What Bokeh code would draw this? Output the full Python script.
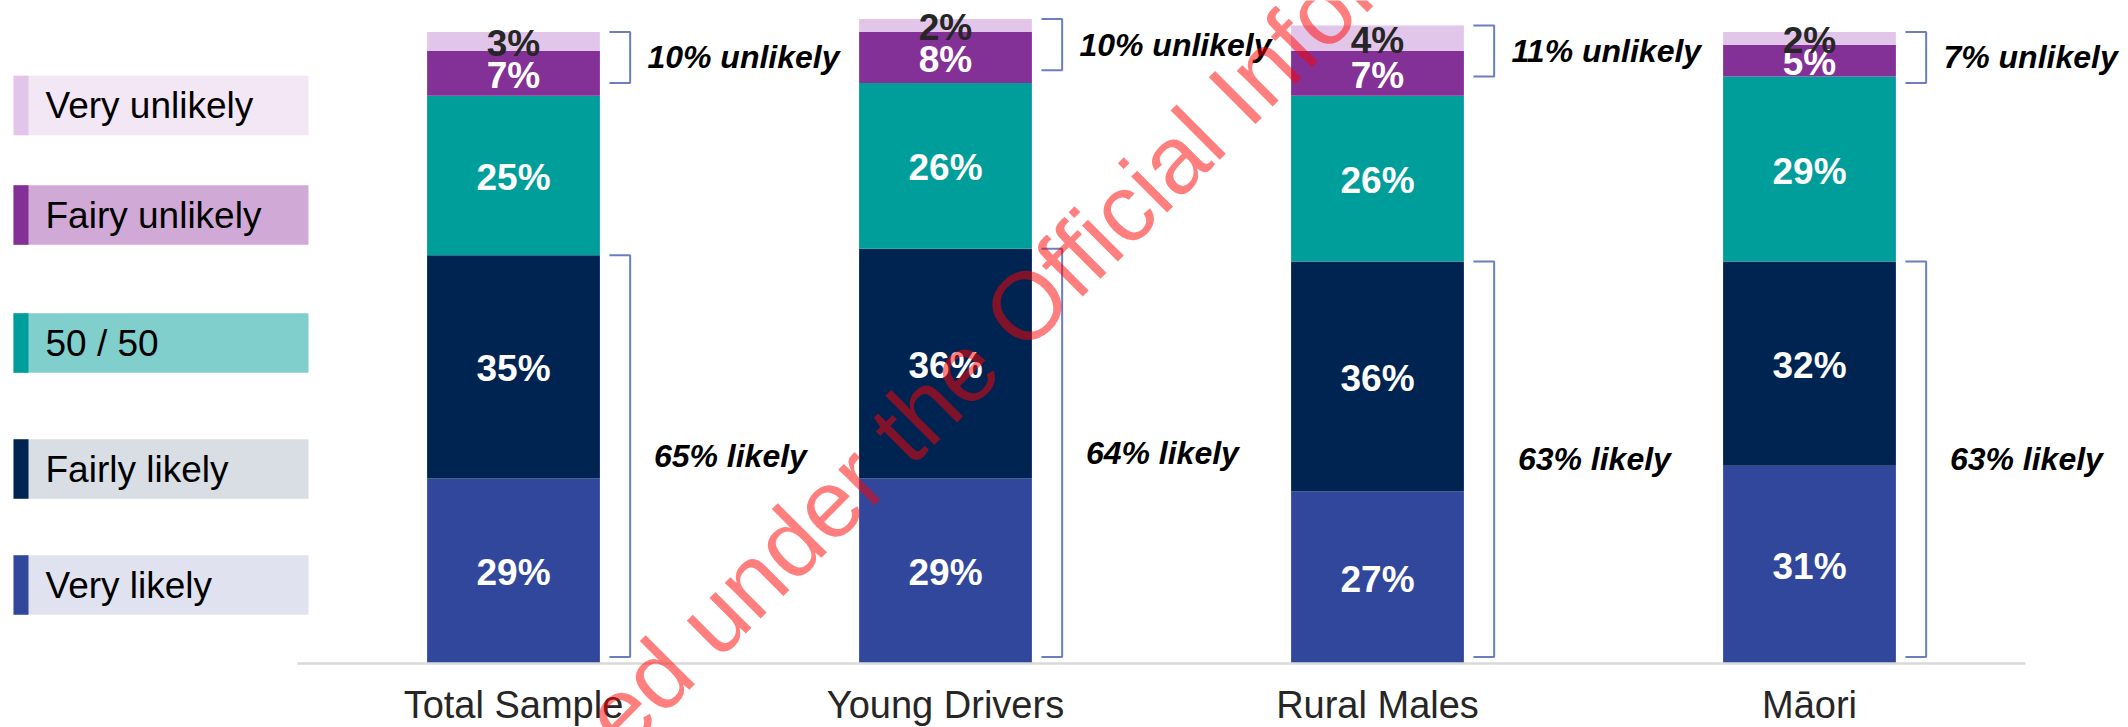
from bokeh.plotting import figure
from bokeh.models import ColumnDataSource, Range1d, Label
from bokeh.core.properties import value
from bokeh.embed import file_html
from bokeh.resources import INLINE

# ---------------- data ----------------
categories = ["Total Sample", "Young Drivers", "Rural Males", "Māori"]
very_likely = [29, 29, 27, 31]
fairly_likely = [35, 36, 36, 32]
fifty_fifty = [25, 26, 26, 29]
fairly_unlikely = [7, 8, 7, 5]
very_unlikely = [3, 2, 4, 2]
likely_total = [65, 64, 63, 63]
unlikely_total = [10, 10, 11, 7]

series_keys = ["very_likely", "fairly_likely", "fifty_fifty", "fairly_unlikely", "very_unlikely"]
series_names = ["Very likely", "Fairly likely", "50 / 50", "Fairy unlikely", "Very unlikely"]
watermark_text = "Released under the Official Information Act"

# ---------------- styles ----------------
seg_colors = ["#31479b", "#002452", "#009e9a", "#833197", "#e2c6ea"]
legend_bg = ["#e0e3ef", "#d9dde4", "#80cfcd", "#d0a9d6", "#f3e6f5"]
label_colors = ["white", "white", "white", "white", "#262626"]
FONT_NAME = "Liberation Sans"
FONT = value(FONT_NAME)

# ---------------- layout ----------------
W, H = 2128, 727
PX_X = 432.0          # pixels per category step
PX_Y = 6.38           # pixels per percentage point
X0_PX = 513.0         # canvas x of first category
Y0_PX = 663.0         # canvas y of zero line


def dx(px):
    return (px - X0_PX) / PX_X


def dy(py):
    return (Y0_PX - py) / PX_Y


p = figure(width=W, height=H, output_backend="svg", toolbar_location=None,
           x_range=Range1d(dx(0), dx(W)), y_range=Range1d(dy(H), dy(0)),
           min_border=0, outline_line_color=None)
p.axis.visible = False
p.grid.visible = False
p.background_fill_color = "white"
p.border_fill_color = "white"

n = len(categories)
xs = list(range(n))
data = dict(x=xs, very_likely=very_likely, fairly_likely=fairly_likely,
            fifty_fifty=fifty_fifty, fairly_unlikely=fairly_unlikely,
            very_unlikely=very_unlikely)
src = ColumnDataSource(data)

BAR_W = 0.4
p.vbar_stack(series_keys, x="x", width=BAR_W, color=seg_colors, source=src,
             line_color=None)

# baseline (category axis line)
p.segment(x0=[-0.5], y0=[0], x1=[n - 0.5], y1=[0], line_color="#d9d9d9", line_width=2.5)

# segment labels
lx, ly, lt, lc = [], [], [], []
series_vals = [very_likely, fairly_likely, fifty_fifty, fairly_unlikely, very_unlikely]
for i in range(n):
    base = 0
    for k, vals in enumerate(series_vals):
        v = vals[i]
        lx.append(i)
        ly.append(base + v / 2.0)
        lt.append(f"{v}%")
        lc.append(label_colors[k])
        base += v
lsrc = ColumnDataSource(dict(x=lx, y=ly, text=lt, color=lc))
p.text(x="x", y="y", text="text", text_color="color", source=lsrc,
       text_font=FONT, text_font_style="bold", text_font_size="37px",
       text_align="center", text_baseline="middle", y_offset=2)

# brackets
BR_L, BR_R = 0.222, 0.27
bxs, bys = [], []
bl_x, bl_y, bl_t = [], [], []
for i in range(n):
    total = sum(v[i] for v in series_vals)
    top_u, bot_u = total, total - 8
    top_l, bot_l = very_likely[i] + fairly_likely[i], 1
    for (t, b) in [(top_u, bot_u), (top_l, bot_l)]:
        bxs.append([i + BR_L, i + BR_R, i + BR_R, i + BR_L])
        bys.append([t, t, b, b])
    bl_x += [i + 0.31, i + 0.325]
    bl_y += [(top_u + bot_u) / 2.0, (top_l + bot_l) / 2.0]
    bl_t += [f"{unlikely_total[i]}% unlikely", f"{likely_total[i]}% likely"]
p.multi_line(xs=bxs, ys=bys, line_color="#5c70b8", line_width=2, line_alpha=0.9)
p.text(x=bl_x, y=bl_y, text=bl_t, text_color="black", text_font=FONT,
       text_font_style="bold italic", text_font_size="32px",
       text_align="left", text_baseline="middle")

# category labels
p.text(x=xs, y=[dy(704)] * n, text=categories, text_color="#262626", text_font=FONT,
       text_font_size="38px", text_align="center", text_baseline="middle")

# custom legend (top to bottom)
leg_names = series_names[::-1]
leg_strip = seg_colors[::-1]
leg_bg = legend_bg[::-1]
leg_cy = [105, 214.5, 342.5, 468.5, 584.5]
half_h = 29.75
p.quad(left=[dx(13)] * 5, right=[dx(308)] * 5,
       top=[dy(c - half_h) for c in leg_cy], bottom=[dy(c + half_h) for c in leg_cy],
       fill_color=leg_bg, line_color=None)
p.quad(left=[dx(13)] * 5, right=[dx(28)] * 5,
       top=[dy(c - half_h) for c in leg_cy], bottom=[dy(c + half_h) for c in leg_cy],
       fill_color=leg_strip, line_color=None)
p.text(x=[dx(45)] * 5, y=[dy(c) for c in leg_cy], text=leg_names, text_color="black",
       text_font=FONT, text_font_size="37px", text_align="left", text_baseline="middle")

# watermark
wm = Label(x=dx(1035), y=dy(296), text=watermark_text, angle=45, angle_units="deg",
           text_align="center", text_baseline="alphabetic", text_color="red",
           text_alpha=0.5, text_font=FONT_NAME, text_font_size="96px")
p.add_layout(wm)

open("out.html", "w").write(file_html(p, INLINE))
